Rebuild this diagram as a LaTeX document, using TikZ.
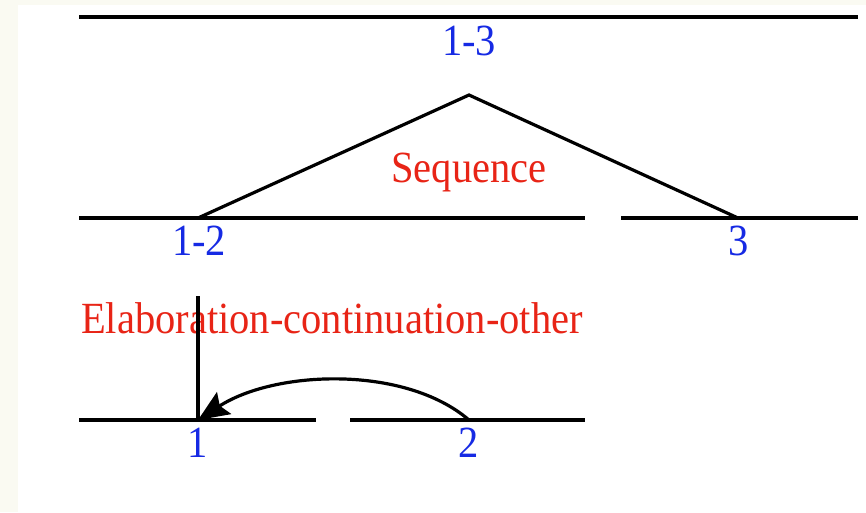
\documentclass[tikz,border=0pt]{standalone}
\usepackage{fontspec}
\setmainfont{Liberation Serif}
\usetikzlibrary{arrows.meta}
\definecolor{spanblue}{RGB}{22,42,228}
\definecolor{relred}{RGB}{232,36,22}
\definecolor{paper}{RGB}{250,250,242}
\newcommand{\tall}[1]{\scalebox{1}[1.1]{#1}}
\tikzset{
    span/.style={anchor=base, inner sep=0pt, text=spanblue, font=\fontsize{40.5}{40.5}\selectfont},
    rel/.style={anchor=base, inner sep=0pt, text=relred, font=\fontsize{40.5}{40.5}\selectfont},
}
\begin{document}
\begin{tikzpicture}[x=1pt, y=-1pt, line width=3.2pt]
    % Background
    \fill[paper] (0,0) rectangle (866,512);
    \fill[white] (18,5) rectangle (866,512);

    % Nodes
    \coordinate (T1) at (79,17);
    \coordinate (T2) at (858,17);
    \coordinate (S) at (469,95);
    \coordinate (M1) at (79,218);
    \coordinate (M2) at (585,218);
    \coordinate (M3) at (621,218);
    \coordinate (M4) at (858,218);
    \coordinate (A) at (198,218);
    \coordinate (B) at (738,218);
    \coordinate (E) at (198,296);
    \coordinate (B1) at (79,420);
    \coordinate (B2) at (316,420);
    \coordinate (B3) at (350,420);
    \coordinate (B4) at (585,420);
    \coordinate (C) at (198,420);
    \coordinate (D) at (469,420);

    \node[span] (L13) at (469,55) {\tall{1-3}};
    \node[span] (L12) at (199,255) {\tall{1-2}};
    \node[span] (L3) at (739,255) {\tall{3}};
    \node[span] (L1) at (198,457) {\tall{1}};
    \node[span] (L2) at (469,457) {\tall{2}};
    \node[rel] (seq) at (469,182) {\tall{Sequence}};
    \node[rel] (elab) at (332,333) {\tall{Elaboration-continuation-other}};

    % Edges
    \draw (T1) -- (T2);
    \draw (M1) -- (M2);
    \draw (M3) -- (M4);
    \draw (B1) -- (B2);
    \draw (B3) -- (B4);
    \draw (A) -- (S) -- (B);
    \draw (E) -- (C);
    \draw[-{Stealth[length=31pt, width=26pt, inset=5pt]}] (D) .. controls (405,365) and (275,370) .. (C);
\end{tikzpicture}
\end{document}
